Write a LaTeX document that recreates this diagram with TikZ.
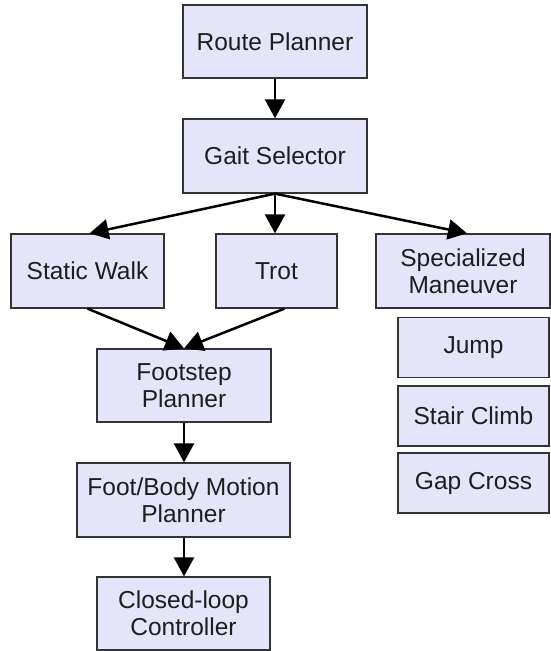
\documentclass[tikz,border=0pt]{standalone}
\usepackage{fontspec}
\setmainfont{Liberation Sans}
\usetikzlibrary{arrows.meta,positioning}
\definecolor{boxfill}{RGB}{229,229,250}
\definecolor{boxline}{RGB}{51,51,51}
\definecolor{txt}{RGB}{30,30,30}
\begin{document}
\begin{tikzpicture}[x=1pt,y=-1pt,
  box/.style={draw=boxline,fill=boxfill,line width=1.3pt,inner sep=0pt,
    text=txt,align=center,font=\fontsize{24.5}{27}\selectfont},
  arr/.style={line width=2.5pt,-{Triangle[length=19pt,width=20pt]}}]
\useasboundingbox (0,0) rectangle (551,651);
\node[box,minimum width=184pt,minimum height=73pt] (route) at (275,41.5) {Route Planner};
\node[box,minimum width=184pt,minimum height=74pt] (gait) at (275,156) {Gait Selector};
\node[box,minimum width=153pt,minimum height=74pt] (static) at (87.5,271) {Static Walk};
\node[box,minimum width=121pt,minimum height=74pt] (trot) at (276.5,271) {Trot};
\node[box,minimum width=174pt,minimum height=74pt] (spec) at (463,271) {Specialized\\Maneuver};
\node[box,minimum width=151pt,minimum height=60pt] (jump) at (473.5,347.5) {Jump};
\node[box,minimum width=151pt,minimum height=60pt] (stair) at (473.5,416) {Stair Climb};
\node[box,minimum width=151pt,minimum height=60pt] (gap) at (473.5,483) {Gap Cross};
\node[box,minimum width=174pt,minimum height=73pt] (foot) at (184,385.5) {Footstep\\Planner};
\node[box,minimum width=213pt,minimum height=74pt] (body) at (183.5,500) {Foot/Body Motion\\Planner};
\node[box,minimum width=173pt,minimum height=73pt] (ctrl) at (183.5,613.5) {Closed-loop\\Controller};
\draw[arr] (route.south) -- (gait.north);
\draw[arr] (gait.south) -- ([xshift=2pt]static.north);
\draw[arr] (gait.south) -- (trot.north -| gait.south);
\draw[arr] (gait.south) -- ([xshift=4pt]spec.north);
\draw[arr] ([xshift=0pt]static.south) -- (foot.north);
\draw[arr] ([xshift=8pt]trot.south) -- (foot.north);
\draw[arr] (foot.south) -- (body.north -| foot.south);
\draw[arr] (body.south -| foot.south) -- (ctrl.north -| foot.south);
\end{tikzpicture}
\end{document}
